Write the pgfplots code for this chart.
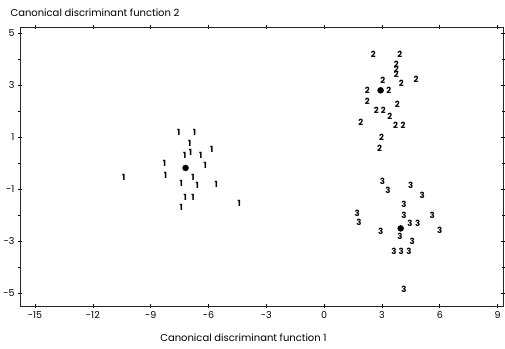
\documentclass[border=0pt]{standalone}
\usepackage{fontspec}
\setmainfont{Poppins}
\usepackage{pgfplots}
\pgfplotsset{compat=1.18}
\usetikzlibrary{calc}
\begin{document}
\begin{tikzpicture}
\begin{axis}[
  name=ax,
  scale only axis, width=483pt, height=279pt,
  xmin=-15.78, xmax=9.28, ymin=-5.5, ymax=5.25,
  xtick={-15,-12,...,9}, ytick={-5,-3,...,5},
  minor ytick={-4,-2,...,4},
  tick align=center, major tick length=4pt, minor tick length=3pt,
  axis line style={line width=0.8pt, black!85},
  tick style={line width=0.6pt, black},
  ticklabel style={font=\fontsize{9.5}{10}\selectfont},
  /pgf/number format/assume math mode=true,
  xlabel={Canonical discriminant function 1},
  ylabel={Canonical discriminant function 2},
  label style={font=\fontsize{10}{12}\selectfont},
  x label style={at={(axis description cs:0.4627,0)}, anchor=base, yshift=-35pt},
  y label style={rotate=-90, at={(axis description cs:0,1)}, anchor=base west, xshift=-13pt, yshift=10pt},
  text mark as node=true,
]
\addplot[only marks, mark=text, text mark={1}, text mark style={font=\bfseries\fontsize{8.5}{9}\selectfont}] coordinates {
(-7.55,1.20) (-6.73,1.20) (-6.98,0.78) (-7.23,0.31) (-6.93,0.40) (-6.40,0.31)
(-5.83,0.53) (-6.17,-0.08) (-8.28,-0.01) (-8.23,-0.46) (-10.40,-0.54) (-7.41,-0.76)
(-6.81,-0.55) (-6.59,-0.87) (-5.60,-0.82) (-7.21,-1.32) (-6.81,-1.32) (-7.41,-1.70)
(-4.40,-1.55)
};
\addplot[only marks, mark=text, text mark={2}, text mark style={font=\bfseries\fontsize{8.5}{9}\selectfont}] coordinates {
(2.55,4.19) (3.93,4.19) (3.74,3.81) (3.74,3.60) (3.74,3.41) (4.00,3.09)
(4.77,3.22) (3.05,3.19) (3.36,2.81) (2.24,2.81) (2.24,2.40) (2.71,2.04)
(3.07,2.04) (3.79,2.27) (3.41,1.81) (3.71,1.46) (4.09,1.46) (1.90,1.59)
(2.98,0.99) (2.88,0.57)
};
\addplot[only marks, mark=text, text mark={3}, text mark style={font=\bfseries\fontsize{8.5}{9}\selectfont}] coordinates {
(3.02,-0.68) (3.31,-1.04) (4.49,-0.85) (5.09,-1.23) (4.14,-1.58) (4.14,-2.00)
(4.45,-2.30) (4.86,-2.30) (5.60,-2.00) (6.00,-2.58) (1.72,-1.93) (1.81,-2.26)
(2.93,-2.64) (3.93,-2.80) (4.57,-2.99) (3.62,-3.38) (4.00,-3.38) (4.40,-3.38)
(4.14,-4.85)
};
\addplot[only marks, mark=*, mark size=3pt, black] coordinates {
(-7.19,-0.18) (2.93,2.81) (3.97,-2.51)
};
\end{axis}
\pgfresetboundingbox
\path[use as bounding box] ($(ax.south west)+(-20pt,-43pt)$) rectangle ($(ax.north east)+(2pt,27pt)$);
\end{tikzpicture}
\end{document}
